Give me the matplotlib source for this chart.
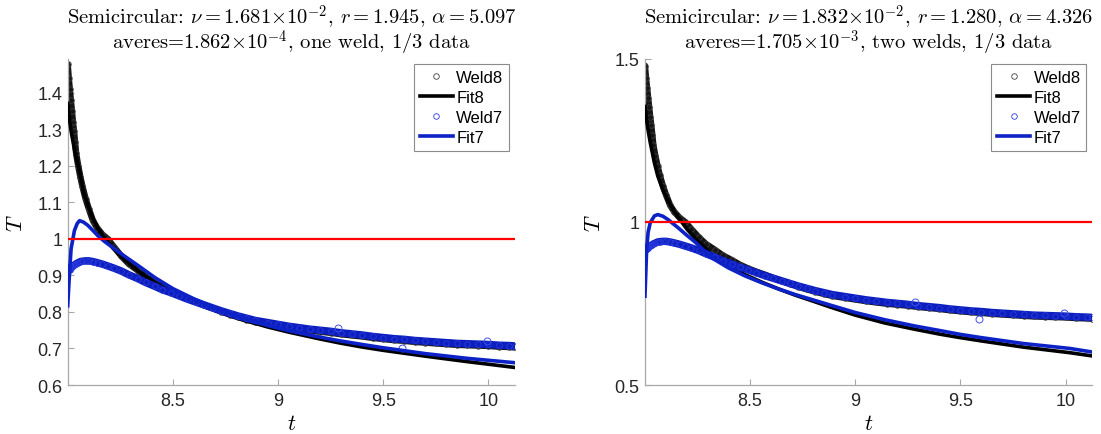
import matplotlib
matplotlib.use("Agg")
import matplotlib.pyplot as plt
from matplotlib.ticker import FuncFormatter

plt.rcParams["mathtext.fontset"] = "cm"
plt.rcParams["font.family"] = ["Liberation Sans", "DejaVu Sans"]

# measured temperatures (same data in both panels)
t_weld = [8.000, 8.005, 8.010, 8.015, 8.020, 8.025, 8.030, 8.035, 8.040, 8.050,
          8.060, 8.070, 8.085, 8.100, 8.120, 8.140, 8.165, 8.190, 8.220, 8.255,
          8.290, 8.335, 8.370, 8.415, 8.450, 8.490, 8.530, 8.570, 8.610, 8.650,
          8.690, 8.730, 8.770, 8.810, 8.850, 8.890, 8.950, 9.000, 9.050, 9.100,
          9.150, 9.200, 9.250, 9.300, 9.350, 9.400, 9.450, 9.500, 9.550, 9.600,
          9.650, 9.700, 9.750, 9.800, 9.850, 9.900, 9.950, 10.000, 10.050, 10.100,
          10.127]
T_weld8 = [1.478, 1.440, 1.410, 1.380, 1.350, 1.320, 1.295, 1.265, 1.234, 1.200,
           1.170, 1.144, 1.110, 1.083, 1.050, 1.030, 1.012, 1.000, 0.978, 0.953,
           0.932, 0.913, 0.897, 0.882, 0.869, 0.857, 0.847, 0.838, 0.828, 0.818,
           0.810, 0.801, 0.793, 0.786, 0.779, 0.773, 0.767, 0.762, 0.757, 0.753,
           0.749, 0.746, 0.743, 0.739, 0.736, 0.733, 0.729, 0.726, 0.723, 0.721,
           0.718, 0.716, 0.714, 0.712, 0.710, 0.709, 0.708, 0.707, 0.705, 0.704,
           0.703]
T_weld7 = [0.922, 0.918, 0.916, 0.920, 0.924, 0.926, 0.928, 0.930, 0.932, 0.935,
           0.938, 0.939, 0.940, 0.940, 0.938, 0.935, 0.931, 0.926, 0.920, 0.912,
           0.902, 0.891, 0.881, 0.870, 0.861, 0.853, 0.844, 0.835, 0.827, 0.819,
           0.811, 0.803, 0.796, 0.789, 0.783, 0.777, 0.771, 0.766, 0.761, 0.757,
           0.753, 0.750, 0.747, 0.743, 0.740, 0.737, 0.733, 0.730, 0.727, 0.725,
           0.722, 0.720, 0.718, 0.716, 0.714, 0.713, 0.712, 0.711, 0.709, 0.708,
           0.707]
# a few stray Weld7 samples off the band
t_w7_stray = [9.283, 9.588, 9.992]
T_w7_stray = [0.755, 0.702, 0.721]

# fits, left panel (one weld)
t_fit_a = [8.000, 8.008, 8.016, 8.032, 8.045, 8.056, 8.075, 8.096, 8.120, 8.143,
           8.175, 8.215, 8.255, 8.335, 8.415, 8.500, 8.600, 8.700, 8.818, 8.950,
           9.057, 9.200, 9.294, 9.400, 9.500, 9.700, 9.900, 10.127]
T_fit8_a = [1.371, 1.330, 1.295, 1.245, 1.212, 1.188, 1.128, 1.092, 1.056, 1.030,
            1.002, 0.975, 0.952, 0.912, 0.880, 0.852, 0.826, 0.804, 0.781, 0.759,
            0.744, 0.726, 0.715, 0.704, 0.695, 0.679, 0.664, 0.648]
T_fit7_a = [0.817, 0.900, 0.973, 1.023, 1.042, 1.050, 1.046, 1.037, 1.023, 1.009,
            0.993, 0.976, 0.959, 0.927, 0.894, 0.864, 0.836, 0.811, 0.786, 0.763,
            0.748, 0.731, 0.721, 0.711, 0.702, 0.686, 0.673, 0.661]

# fits, right panel (two welds)
t_fit_b = [8.000, 8.008, 8.015, 8.025, 8.045, 8.061, 8.085, 8.109, 8.130, 8.157,
           8.200, 8.240, 8.316, 8.396, 8.476, 8.556, 8.636, 8.715, 8.803, 8.875,
           9.000, 9.140, 9.281, 9.400, 9.500, 9.600, 9.800, 10.020, 10.127]
T_fit8_b = [1.353, 1.310, 1.280, 1.243, 1.180, 1.140, 1.098, 1.066, 1.042, 1.015,
            0.977, 0.948, 0.902, 0.866, 0.838, 0.815, 0.794, 0.775, 0.756, 0.740,
            0.714, 0.690, 0.671, 0.656, 0.645, 0.635, 0.616, 0.599, 0.589]
T_fit7_b = [0.772, 0.915, 0.968, 0.997, 1.018, 1.022, 1.017, 1.007, 0.996, 0.982,
            0.958, 0.937, 0.890, 0.859, 0.834, 0.813, 0.794, 0.777, 0.760, 0.746,
            0.722, 0.700, 0.681, 0.667, 0.655, 0.645, 0.627, 0.612, 0.601]

titles = [
    r"Semicircular: $\nu = 1.681{\times}10^{-2}$, $r = 1.945$, $\alpha = 5.097$" "\n"
    r"averes=$1.862{\times}10^{-4}$, one weld, 1/3 data",
    r"Semicircular: $\nu = 1.832{\times}10^{-2}$, $r = 1.280$, $\alpha = 4.326$" "\n"
    r"averes=$1.705{\times}10^{-3}$, two welds, 1/3 data",
]
yticks = [[0.6, 0.7, 0.8, 0.9, 1.0, 1.1, 1.2, 1.3, 1.4], [0.5, 1.0, 1.5]]
ylims = [(0.6, 1.494), (0.5, 1.5)]
xticks = [8.5, 9, 9.5, 10]

BLUE = "#0d22c6"
AXC = "#a8a8a8"
TXT = "#262626"


def panel(ax, t_fit, T_fit8, T_fit7, title, yt, ylim):
    # data bands: dense samples drawn as a thick trace with open circles
    ax.plot(t_weld, T_weld8, "-", color="#151515", lw=4.6, solid_capstyle="round", zorder=2)
    ax.plot(t_weld, T_weld8, "o", mfc="none", mec="#404040", ms=4, mew=0.6, zorder=2,
            label="Weld8")
    ax.plot(t_fit, T_fit8, "-", color="black", lw=2.6, zorder=3, label="Fit8")
    ax.plot(t_weld, T_weld7, "-", color="#0c1fbe", lw=5.4, solid_capstyle="round", zorder=4)
    ax.plot(t_weld, T_weld7, "o", mfc="none", mec="#2a3ae0", ms=4, mew=0.6, zorder=4,
            label="Weld7")
    ax.plot(t_w7_stray, T_w7_stray, "o", mfc="none", mec="#4050e8", ms=5, mew=0.7, zorder=4)
    ax.plot(t_fit, T_fit7, "-", color=BLUE, lw=2.6, zorder=5, label="Fit7")
    ax.plot([t_weld[0], t_weld[-1]], [1, 1], "-", color="red", lw=1.6, zorder=6)

    ax.set_xlim(t_weld[0], t_weld[-1])
    ax.set_ylim(*ylim)
    ax.set_xticks(xticks)
    ax.set_yticks(yt)
    fmt = FuncFormatter(lambda v, p: "%g" % round(v, 3))
    ax.xaxis.set_major_formatter(fmt)
    ax.yaxis.set_major_formatter(fmt)
    for s in ["top", "right"]:
        ax.spines[s].set_visible(False)
    for s in ["left", "bottom"]:
        ax.spines[s].set_color(AXC)
        ax.spines[s].set_linewidth(0.9)
    ax.tick_params(direction="in", length=4, width=0.8, color=AXC, labelcolor=TXT,
                   labelsize=13)
    ax.tick_params(axis="x", pad=5)
    ax.tick_params(axis="y", pad=4)
    ax.set_xlabel(r"$t$", fontsize=16, labelpad=3)
    ax.set_ylabel(r"$T$", fontsize=16, labelpad=7)

    ax.text(0.5, 1.006, title, transform=ax.transAxes, ha="center", va="bottom",
            multialignment="center", linespacing=0.86, fontsize=14.8, family="cmr10")

    leg = ax.legend(loc="upper right", fontsize=12, frameon=True, fancybox=False,
                    borderpad=0.35, labelspacing=0.3, handlelength=2.0,
                    handletextpad=0.2, borderaxespad=0.35, markerscale=1.0)
    leg.get_frame().set_edgecolor("#6e6e6e")
    leg.get_frame().set_linewidth(0.8)


fig = plt.figure(figsize=(11.01, 4.35), dpi=100)
axL = fig.add_axes([0.0615, 0.1126, 0.4063, 0.7506])
axR = fig.add_axes([0.5858, 0.1126, 0.4063, 0.7506])
panel(axL, t_fit_a, T_fit8_a, T_fit7_a, titles[0], yticks[0], ylims[0])
panel(axR, t_fit_b, T_fit8_b, T_fit7_b, titles[1], yticks[1], ylims[1])

fig.savefig("out.png", dpi=100)
